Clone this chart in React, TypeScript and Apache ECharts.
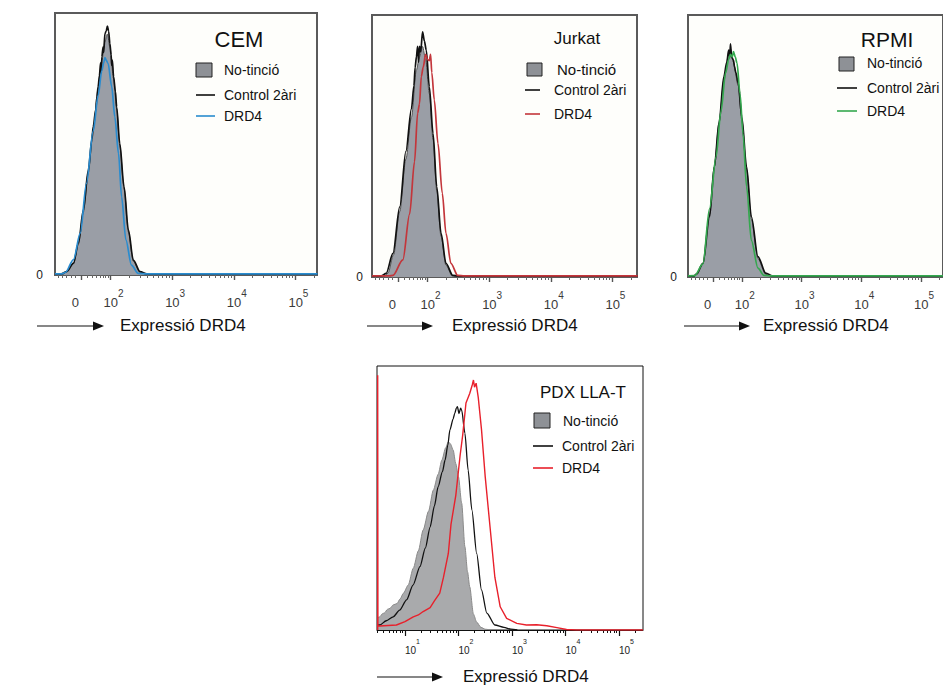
import React, { useEffect, useRef } from 'react';
import * as echarts from 'echarts';

// ---------- DATA (x = position on the display axis in decades, y = % of panel height) ----------
// CEM
const cemNoTincio = [[1.22,0],[1.29,1.2],[1.40,4.3],[1.48,11.8],[1.56,24],[1.64,39],[1.72,55.5],[1.80,71],[1.86,82],[1.91,89],[1.95,92],[1.99,87],[2.05,75],[2.10,63.5],[2.15,49.5],[2.22,33],[2.29,16.5],[2.37,5.3],[2.48,1],[2.58,0]];
const cemControl2ari = [[1.10,0.4],[1.20,0.4],[1.29,1.3],[1.40,4.5],[1.48,12.2],[1.56,24.8],[1.64,40],[1.70,52],[1.72,56.6],[1.76,63],[1.78,68],[1.80,71.9],[1.82,76],[1.84,81],[1.85,77],[1.86,83.3],[1.88,87],[1.89,85],[1.91,92.2],[1.93,93],[1.95,95],[1.97,93],[1.99,88.4],[2.01,84],[2.02,80],[2.03,82],[2.05,75.7],[2.08,70],[2.10,64.2],[2.15,50.3],[2.22,33.7],[2.29,17.2],[2.37,5.7],[2.48,1.3],[2.59,0.4],[5.36,0.4]];
const cemDrd4 = [[1.10,0.4],[1.20,0.4],[1.27,1],[1.40,5.9],[1.51,16],[1.61,35],[1.72,55],[1.80,68.6],[1.86,78],[1.89,81],[1.91,83],[1.93,82],[1.96,80.8],[2.02,71.9],[2.07,60.4],[2.13,46.4],[2.18,29.9],[2.25,13.4],[2.34,3.8],[2.45,0.6],[2.60,0.4],[5.36,0.4]];
// Jurkat
const jurkatNoTincio = [[1.30,0],[1.36,1.5],[1.45,8.5],[1.55,25],[1.65,45],[1.74,61],[1.82,79],[1.87,84],[1.92,88],[1.97,83],[2.03,70],[2.09,52.5],[2.15,33],[2.22,15.5],[2.30,4.5],[2.40,0.5],[2.48,0]];
const jurkatControl2ari = [[1.10,0.4],[1.25,0.4],[1.33,1.4],[1.44,9],[1.55,26.8],[1.65,48],[1.74,64.2],[1.78,73],[1.80,80],[1.82,84],[1.84,88],[1.855,82],[1.87,88],[1.89,86],[1.92,93.6],[1.95,90],[1.98,86.6],[2.03,72.6],[2.09,54.8],[2.15,34.5],[2.22,16.7],[2.30,5.2],[2.41,0.6],[2.50,0.4],[5.41,0.4]];
const jurkatDrd4 = [[1.10,0.4],[1.38,0.4],[1.44,0.6],[1.60,6.5],[1.71,24],[1.79,44],[1.84,62.5],[1.87,66],[1.90,76.5],[1.93,80],[1.97,85],[2.00,83],[2.03,82.6],[2.05,85],[2.07,78],[2.11,67.6],[2.17,51],[2.24,32],[2.30,16.7],[2.38,5.2],[2.49,0.6],[2.60,0.4],[5.41,0.4]];
// RPMI
const rpmiNoTincio = [[1.20,0],[1.25,1],[1.35,5],[1.46,24],[1.54,42],[1.62,59],[1.70,75],[1.78,85],[1.81,87],[1.86,82],[1.94,73],[2.00,60],[2.08,41],[2.16,22],[2.27,7],[2.40,1],[2.50,0]];
const rpmiControl2ari = [[1.10,0.4],[1.20,0.4],[1.24,1.1],[1.35,5.2],[1.46,23],[1.54,42],[1.62,59],[1.70,76.5],[1.75,82],[1.78,86.6],[1.80,84],[1.81,89],[1.83,84],[1.86,82.8],[1.88,80],[1.90,78],[1.94,74],[2.00,61],[2.08,42],[2.16,23],[2.27,7.8],[2.40,1.5],[2.51,0.4],[5.38,0.4]];
const rpmiDrd4 = [[1.10,0.4],[1.21,0.5],[1.35,5],[1.46,26],[1.57,46],[1.65,63],[1.73,78],[1.78,83],[1.81,85],[1.84,84],[1.86,86],[1.89,84],[1.92,81.6],[1.97,70],[2.02,54.8],[2.08,34.5],[2.16,14],[2.27,3.4],[2.37,0.6],[2.50,0.4],[5.38,0.4]];
// PDX LLA-T (x = log10 of fluorescence)
const pdxNoTincio = [[0.477,4.5],[0.53,5],[0.58,6.2],[0.62,6.5],[0.67,7.8],[0.72,8.2],[0.78,9.5],[0.85,10],[0.91,11.8],[0.97,13.9],[1.06,17],[1.155,23.4],[1.25,30],[1.34,37.9],[1.44,45],[1.53,53],[1.62,59],[1.69,64.4],[1.76,69],[1.81,71.3],[1.85,70.5],[1.90,68.2],[1.95,63],[2.0,58],[2.06,48],[2.12,31.6],[2.17,22],[2.21,16.4],[2.28,6],[2.34,3.0],[2.42,1],[2.50,0.3],[2.60,0]];
const pdxControl2ari = [[0.477,1.9],[0.53,1.9],[0.65,3.5],[0.78,5],[0.90,7.5],[1.03,11.4],[1.15,17],[1.28,24],[1.38,31],[1.47,39],[1.55,47],[1.62,54.3],[1.70,60],[1.75,64.4],[1.80,70],[1.84,75.8],[1.90,80],[1.93,82],[1.96,84],[1.98,84.6],[2.01,82],[2.04,84],[2.06,83.3],[2.12,74.6],[2.18,60.6],[2.25,45.5],[2.34,29],[2.43,15.2],[2.53,6.4],[2.68,1.9],[2.85,1.0],[2.98,0.3],[3.10,0]];
const pdxDrd4 = [[0.490,0],[0.490,96.5],[0.494,1.5],[0.53,1.5],[0.84,1.9],[1.0,3.2],[1.155,5],[1.25,5.7],[1.34,7],[1.47,8.5],[1.55,11],[1.65,14],[1.72,20],[1.81,29],[1.86,40],[1.95,51],[2.03,66],[2.08,74],[2.14,86],[2.21,89.6],[2.26,93],[2.28,94.7],[2.30,92],[2.33,93.5],[2.37,88],[2.40,82],[2.43,76],[2.50,58],[2.59,39],[2.68,20],[2.78,8.8],[2.90,4.4],[3.09,2.5],[3.27,1.9],[3.46,2.0],[3.65,1.6],[3.84,0.9],[4.02,0.2],[4.20,0],[5.449,0]];

// tick label texts
const topTickLabels = ['0', '10^2', '10^3', '10^4', '10^5'];
const pdxTickLabels = ['10^1', '10^2', '10^3', '10^4', '10^5'];
const legendLabels = ['No-tinció', 'Control 2àri', 'DRD4'];
const axisTitle = 'Expressió DRD4';

// ---------- AXIS TICK POSITIONS ----------
const TOP_LABEL_POS = [1.43, 2, 3, 4, 5];
const TOP_MAJOR = [1.53, 2, 3, 4, 5];
const TOP_LIN_MINOR = [1.15, 1.22, 1.29, 1.36, 1.43, 1.62, 1.70, 1.77, 1.83, 1.88, 1.92, 1.96];
const PDX_MAJOR = [1, 2, 3, 4, 5];

function logMinors(d0: number, d1: number, lo: number, hi: number) {
  const out: number[] = [];
  for (let d = d0; d <= d1; d++) {
    for (let k = 2; k <= 9; k++) {
      const v = d + Math.log10(k);
      if (v > lo && v < hi) out.push(v);
    }
  }
  return out;
}

const FONT = '"Liberation Sans", Arial, Helvetica, sans-serif';

const topPanels = [
  {
    left: 55, top: 13, width: 262, height: 262, min: 1.10, yMargin: 12,
    gray: cemNoTincio, black: cemControl2ari, drd4: cemDrd4, color: '#2a8ccf',
    title: 'CEM', titleX: 239, titleY: 39, titleSize: 22,
    sq: [196, 63, 16, 14], lineX: [196, 215], textX: [224, 224, 224], rows: [70, 95, 116], sizes: [14, 14, 14],
    arrow: { x1: 37, x2: 104, y: 326, textX: 120, textY: 325 },
  },
  {
    left: 372, top: 15, width: 265, height: 262, min: 1.10, yMargin: 9,
    gray: jurkatNoTincio, black: jurkatControl2ari, drd4: jurkatDrd4, color: '#c3363b',
    title: 'Jurkat', titleX: 577, titleY: 38, titleSize: 17,
    sq: [527, 63, 15, 13], lineX: [525, 540], textX: [557, 554, 554], rows: [69, 90, 114], sizes: [15, 14, 14],
    arrow: { x1: 367, x2: 433, y: 326, textX: 452, textY: 325 },
  },
  {
    left: 688, top: 15, width: 263, height: 262, min: 1.10, yMargin: 11,
    gray: rpmiNoTincio, black: rpmiControl2ari, drd4: rpmiDrd4, color: '#35a84f',
    title: 'RPMI', titleX: 887, titleY: 39, titleSize: 21,
    sq: [839, 57, 15, 14], lineX: [837, 857], textX: [867, 867, 867], rows: [63, 88, 111], sizes: [14, 14, 14],
    arrow: { x1: 684, x2: 750, y: 326, textX: 763, textY: 325 },
  },
];

const pdxPanel = {
  left: 377, top: 366, width: 266, height: 264, min: 0.477, max: 5.449,
  title: 'PDX LLA-T', titleX: 583, titleY: 392, titleSize: 17,
  sq: [534, 413, 16, 15], lineX: [533, 553], textX: [563, 562, 562], rows: [421, 446, 468], sizes: [14, 14, 14],
  color: '#e8202b',
  arrow: { x1: 377, x2: 443, y: 677, textX: 463, textY: 676 },
};

function supLabel(text: string) {
  const parts = text.split('^');
  if (parts.length === 1) return `{z|${parts[0]}}`;
  return `{p| }{b|${parts[0]}}{s|${parts[1]}}`;
}

function legendGraphics(p: any, color: string) {
  const els: any[] = [];
  els.push({
    type: 'text', x: p.titleX, y: p.titleY, z: 100,
    style: { text: p.title, fill: '#111', fontSize: p.titleSize, fontFamily: FONT, align: 'center', verticalAlign: 'middle', textAlign: 'center', textVerticalAlign: 'middle' },
  });
  els.push({ type: 'rect', z: 100, shape: { x: p.sq[0], y: p.sq[1], width: p.sq[2], height: p.sq[3] }, style: { fill: '#8e9196', stroke: '#222', lineWidth: 1 } });
  const lineColors = [null, '#111', color];
  legendLabels.forEach((lab, i) => {
    if (i > 0) {
      els.push({ type: 'line', z: 100, shape: { x1: p.lineX[0], y1: p.rows[i], x2: p.lineX[1], y2: p.rows[i] }, style: { stroke: lineColors[i], lineWidth: 1.6 } });
    }
    els.push({
      type: 'text', x: p.textX[i], y: p.rows[i], z: 100,
      style: { text: lab, fill: '#111', fontSize: p.sizes[i], fontFamily: FONT, align: 'left', verticalAlign: 'middle', textAlign: 'left', textVerticalAlign: 'middle' },
    });
  });
  const a = p.arrow;
  els.push({ type: 'line', z: 100, shape: { x1: a.x1, y1: a.y, x2: a.x2 - 6, y2: a.y }, style: { stroke: '#111', lineWidth: 1.2 } });
  els.push({ type: 'polygon', z: 100, shape: { points: [[a.x2 - 11, a.y - 4.5], [a.x2, a.y], [a.x2 - 11, a.y + 4.5]] }, style: { fill: '#111' } });
  els.push({
    type: 'text', x: a.textX, y: a.textY, z: 100,
    style: { text: axisTitle, fill: '#111', fontSize: 17, fontFamily: FONT, align: 'left', verticalAlign: 'middle', textAlign: 'left', textVerticalAlign: 'middle' },
  });
  return els;
}

function buildOption() {
  const grid: any[] = [];
  const xAxis: any[] = [];
  const yAxis: any[] = [];
  const series: any[] = [];
  const graphic: any[] = [];

  topPanels.forEach((p, i) => {
    const max = p.min + p.width / 61.65;
    grid.push({ left: p.left, top: p.top, width: p.width, height: p.height, show: true, borderColor: '#5a5a5a', borderWidth: 2, backgroundColor: '#fefefb', containLabel: false });
    xAxis.push({
      type: 'value', gridIndex: i, min: p.min, max, position: 'bottom',
      axisLine: { show: true, onZero: false, lineStyle: { color: '#5a5a5a', width: 2 } },
      axisTick: { show: true, customValues: TOP_MAJOR, length: 5, lineStyle: { color: '#555', width: 1.4 } },
      axisLabel: {
        show: true, customValues: TOP_LABEL_POS, margin: 13,
        formatter: (v: number) => supLabel(topTickLabels[TOP_LABEL_POS.findIndex((t) => Math.abs(t - v) < 1e-6)] ?? ''),
        rich: {
          p: { width: 6, fontSize: 13, lineHeight: 21, fontFamily: FONT },
          z: { fontSize: 13, lineHeight: 21, verticalAlign: 'bottom', color: '#3a3a3a', fontFamily: FONT },
          b: { fontSize: 13, lineHeight: 21, verticalAlign: 'bottom', color: '#3a3a3a', fontFamily: FONT },
          s: { fontSize: 10, lineHeight: 21, verticalAlign: 'top', color: '#3a3a3a', fontFamily: FONT },
        },
      },
      splitLine: { show: false },
    });
    xAxis.push({
      type: 'value', gridIndex: i, min: p.min, max, position: 'bottom',
      axisLine: { show: false },
      axisTick: { show: true, customValues: [...TOP_LIN_MINOR, ...logMinors(2, 5, p.min, max)], length: 3, lineStyle: { color: '#666', width: 1 } },
      axisLabel: { show: false },
      splitLine: { show: false },
    });
    yAxis.push({
      type: 'value', gridIndex: i, min: 0, max: 100,
      axisLine: { show: false }, axisTick: { show: false }, splitLine: { show: false },
      axisLabel: { show: true, customValues: [0], formatter: () => '0', margin: p.yMargin, fontSize: 12, color: '#222', fontFamily: FONT },
    });
    const common = { type: 'line', xAxisIndex: 2 * i, yAxisIndex: i, symbol: 'none', showSymbol: false, smooth: 0.3, smoothMonotone: 'x', silent: true };
    series.push({ ...common, data: p.gray, z: 2, lineStyle: { color: '#555', width: 1 }, areaStyle: { color: '#9a9ea6', opacity: 1 } });
    series.push({ ...common, data: p.black, z: 3, lineStyle: { color: '#111', width: 1.7 } });
    series.push({ ...common, data: p.drd4, z: 4, lineStyle: { color: p.color, width: 1.7 } });
    graphic.push(...legendGraphics(p, p.color));
  });

  // PDX panel
  const gi = 3;
  const q = pdxPanel;
  grid.push({ left: q.left, top: q.top, width: q.width, height: q.height, show: true, borderColor: '#111', borderWidth: 1, backgroundColor: '#fff' });
  xAxis.push({
    type: 'value', gridIndex: gi, min: q.min, max: q.max, position: 'bottom',
    axisLine: { show: true, onZero: false, lineStyle: { color: '#111', width: 1 } },
    axisTick: { show: true, customValues: PDX_MAJOR, length: 6, lineStyle: { color: '#111', width: 1.2 } },
    axisLabel: {
      show: true, customValues: PDX_MAJOR, margin: 8, align: 'left',
      formatter: (v: number) => supLabel(pdxTickLabels[PDX_MAJOR.findIndex((t) => Math.abs(t - v) < 1e-6)] ?? ''),
      rich: {
        p: { width: 0, fontSize: 1, lineHeight: 17 },
        b: { fontSize: 10, lineHeight: 17, verticalAlign: 'bottom', color: '#222', fontFamily: FONT },
        s: { fontSize: 7, lineHeight: 17, verticalAlign: 'top', color: '#222', fontFamily: FONT },
      },
    },
    splitLine: { show: false },
  });
  xAxis.push({
    type: 'value', gridIndex: gi, min: q.min, max: q.max, position: 'bottom',
    axisLine: { show: false },
    axisTick: { show: true, customValues: logMinors(0, 5, q.min, q.max), length: 3, lineStyle: { color: '#111', width: 1 } },
    axisLabel: { show: false },
    splitLine: { show: false },
  });
  yAxis.push({ type: 'value', gridIndex: gi, min: 0, max: 100, axisLine: { show: false }, axisTick: { show: false }, axisLabel: { show: false }, splitLine: { show: false } });
  const c4 = { type: 'line', xAxisIndex: 2 * gi, yAxisIndex: gi, symbol: 'none', showSymbol: false, smooth: 0.25, smoothMonotone: 'x', silent: true };
  series.push({ ...c4, data: pdxNoTincio, z: 2, lineStyle: { color: '#8a8a8a', width: 1 }, areaStyle: { color: '#a9aaac', opacity: 1 } });
  series.push({ ...c4, data: pdxControl2ari, z: 3, lineStyle: { color: '#111', width: 1.3 } });
  series.push({ ...c4, smooth: false, data: pdxDrd4, z: 4, lineStyle: { color: q.color, width: 1.4 } });
  graphic.push(...legendGraphics(q, q.color));

  return {
    animation: false,
    backgroundColor: '#ffffff',
    textStyle: { fontFamily: FONT },
    grid, xAxis, yAxis, series,
    graphic: { elements: graphic },
  };
}

export default function App() {
  const ref = useRef<HTMLDivElement>(null);
  useEffect(() => {
    const chart = echarts.init(ref.current!, null, { renderer: 'svg' });
    chart.setOption(buildOption() as any);
    return () => chart.dispose();
  }, []);
  return <div ref={ref} style={{ position: 'fixed', left: 0, top: 0, width: 943, height: 686, background: '#fff' }} />;
}
